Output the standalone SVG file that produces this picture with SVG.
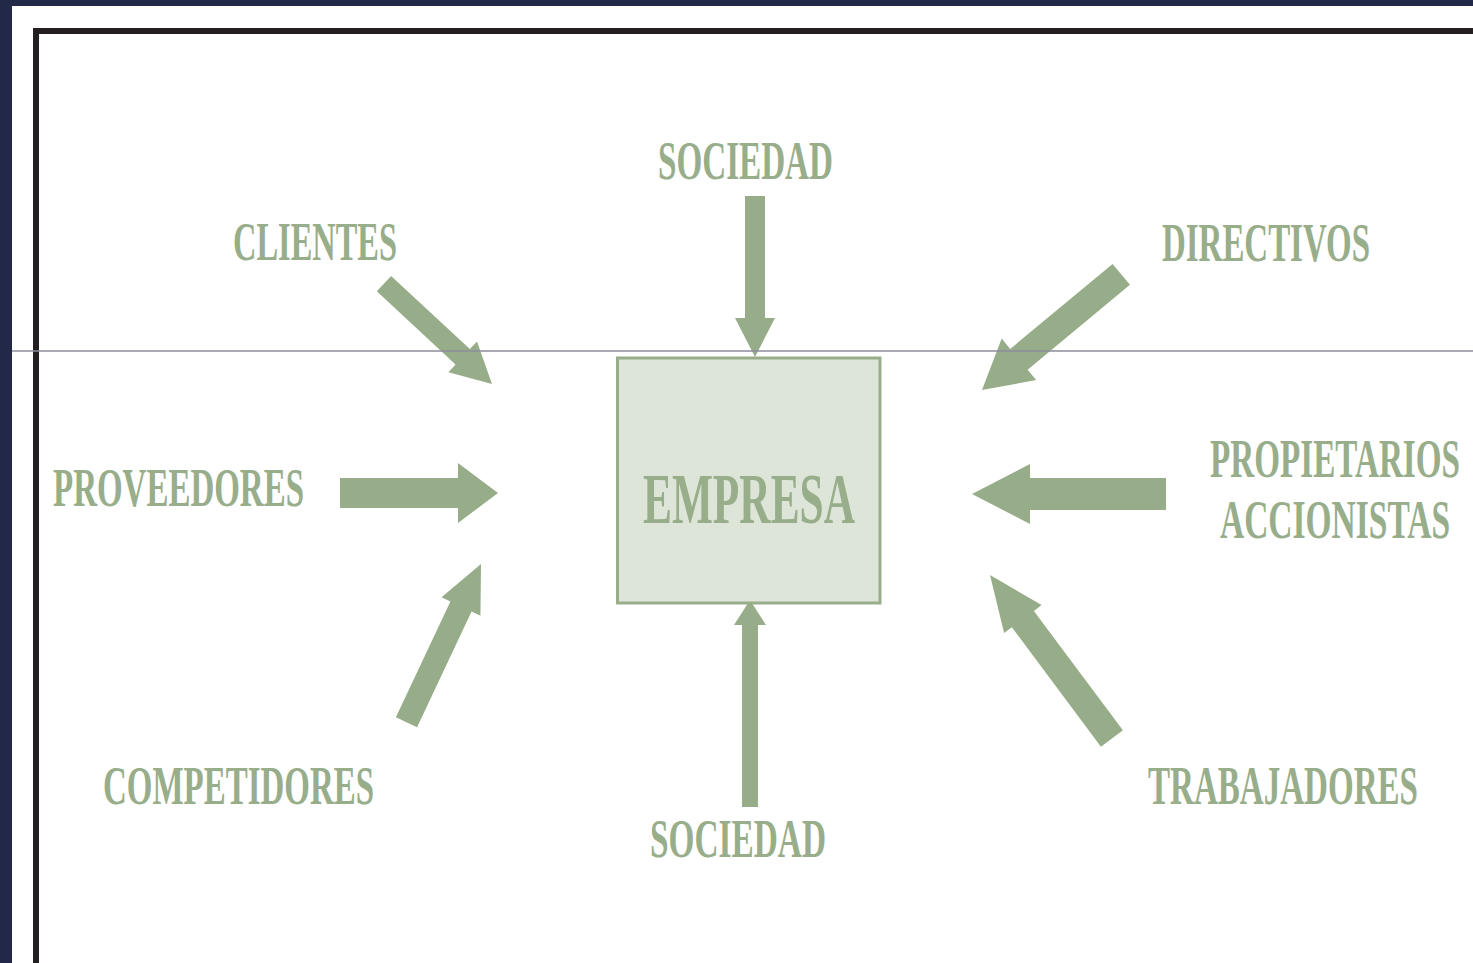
<svg xmlns="http://www.w3.org/2000/svg" width="1473" height="963" viewBox="0 0 1473 963">
<style>
.lbl{font-family:"Liberation Serif","Times New Roman",serif;font-weight:bold;font-size:54px;fill:#98ad8a}
.emp{font-family:"Liberation Serif","Times New Roman",serif;font-weight:bold;font-size:72px;fill:#98ad8a}
.arr{fill:#97ad89}
</style>
<rect x="0" y="0" width="1473" height="963" fill="#222848"/>
<rect x="12" y="6" width="1461" height="957" fill="#ffffff"/>
<rect x="36" y="31" width="1500" height="1000" fill="none" stroke="#231f20" stroke-width="6"/>
<g id="connectors">
<polygon class="arr" transform="translate(755,357) rotate(90)" points="-161,-10 -39,-10 -39,-20 0,0 -39,20 -39,10 -161,10"/>
<polygon class="arr" transform="translate(750,600) rotate(-90)" points="-207,-8 -25,-8 -25,-16 0,0 -25,16 -25,8 -207,8"/>
<polygon class="arr" transform="translate(498,493)" points="-158,-15 -40,-15 -40,-30 0,0 -40,30 -40,15 -158,15"/>
<polygon class="arr" transform="translate(972,494) rotate(180)" points="-194,-16 -58,-16 -58,-30 0,0 -58,30 -58,16 -194,16"/>
<polygon class="arr" transform="translate(492,384) rotate(42.9)" points="-147.5,-10.5 -40,-10.5 -40,-21 0,0 -40,21 -40,10.5 -147.5,10.5"/>
<polygon class="arr" transform="translate(982,390) rotate(140.3)" points="-181,-13.6 -48,-13.6 -48,-27 0,0 -48,27 -48,13.6 -181,13.6"/>
<polygon class="arr" transform="translate(481,564) rotate(-64.8)" points="-175,-11.7 -47,-11.7 -47,-21.5 0,0 -47,21.5 -47,11.7 -175,11.7"/>
<polygon class="arr" transform="translate(990,575) rotate(-126.7)" points="-204,-13.7 -55,-13.7 -55,-23.4 0,0 -55,23.4 -55,13.7 -204,13.7"/>
</g>
<g id="empresa">
<rect x="617.5" y="358" width="262.5" height="245" fill="#dde5d9" stroke="#98ad8a" stroke-width="3"/>
<text class="emp" x="643" y="523" textLength="212" lengthAdjust="spacingAndGlyphs">EMPRESA</text>
</g>
<g id="sociedad-top"><text class="lbl" x="658" y="179" textLength="175" lengthAdjust="spacingAndGlyphs">SOCIEDAD</text></g>
<g id="clientes"><text class="lbl" x="233" y="260" textLength="164" lengthAdjust="spacingAndGlyphs">CLIENTES</text></g>
<g id="directivos"><text class="lbl" x="1162" y="261" textLength="208" lengthAdjust="spacingAndGlyphs">DIRECTIVOS</text></g>
<g id="proveedores"><text class="lbl" x="53" y="506" textLength="251" lengthAdjust="spacingAndGlyphs">PROVEEDORES</text></g>
<g id="propietarios">
<text class="lbl" x="1210" y="477" textLength="250" lengthAdjust="spacingAndGlyphs">PROPIETARIOS</text>
<text class="lbl" x="1220" y="538" textLength="230" lengthAdjust="spacingAndGlyphs">ACCIONISTAS</text>
</g>
<g id="competidores"><text class="lbl" x="103" y="804" textLength="271" lengthAdjust="spacingAndGlyphs">COMPETIDORES</text></g>
<g id="trabajadores"><text class="lbl" x="1148" y="804" textLength="270" lengthAdjust="spacingAndGlyphs">TRABAJADORES</text></g>
<g id="sociedad-bottom"><text class="lbl" x="650" y="857" textLength="176" lengthAdjust="spacingAndGlyphs">SOCIEDAD</text></g>
<line x1="12" y1="351" x2="1473" y2="351" stroke="#8c8c9c" stroke-width="1.5"/>
</svg>
